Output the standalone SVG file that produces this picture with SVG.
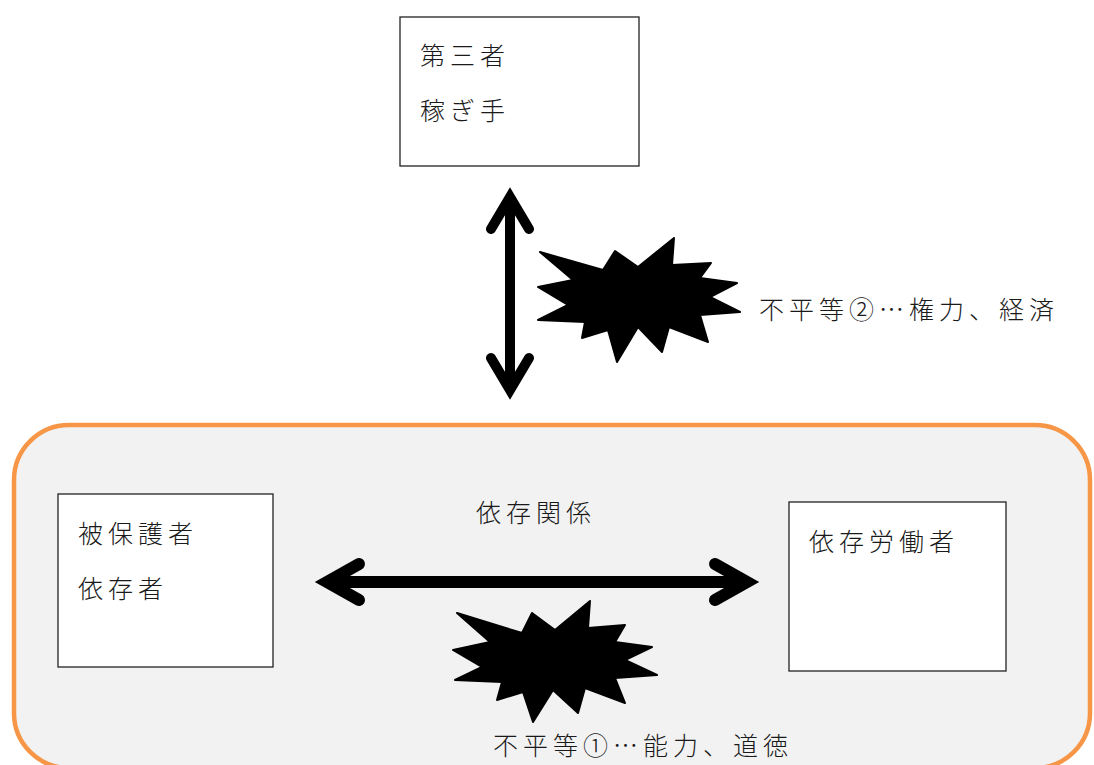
<svg xmlns="http://www.w3.org/2000/svg" width="1094" height="765" viewBox="0 0 1094 765">
<style>
.box{fill:#fff;stroke:#222;stroke-width:1.3}
.t{font-family:"Noto Sans CJK JP","Noto Sans CJK SC",sans-serif;font-size:25px;font-weight:300;fill:#1a1a1a;letter-spacing:5px}
.arr{fill:none;stroke:#000;stroke-linecap:round;stroke-linejoin:miter;stroke-miterlimit:10}
.burst{fill:#000;stroke:#000;stroke-width:2;stroke-linejoin:round}
</style>
<rect width="1094" height="765" fill="#fff"/>
<g id="container">
<rect x="14" y="425" width="1076" height="343" rx="55" ry="55" fill="#f2f2f2" stroke="#f79646" stroke-width="4.5"/>
</g>
<g id="third-party">
<rect class="box" x="400" y="17" width="239" height="149"/>
<text class="t" x="420" y="65">第三者</text>
<text class="t" x="420" y="120">稼ぎ手</text>
</g>
<g id="dependent">
<rect class="box" x="58" y="494" width="215" height="173"/>
<text class="t" x="78" y="543">被保護者</text>
<text class="t" x="78" y="598">依存者</text>
</g>
<g id="dependency-worker">
<rect class="box" x="789" y="502" width="217" height="169"/>
<text class="t" x="809" y="551">依存労働者</text>
</g>
<g id="connectors">
<g class="arr" stroke-width="10">
<line x1="510" y1="200" x2="510" y2="388"/>
<polyline points="491,229 510,197 529,229"/>
<polyline points="491,358 510,390 529,358"/>
</g>
<g class="arr" stroke-width="12">
<line x1="330" y1="582" x2="744" y2="582"/>
<polyline points="359,564 327,582 359,600"/>
<polyline points="715,564 747,582 715,600"/>
</g>
</g>
<g id="burst-2">
<polygon class="burst" points="540,252 603,270 615,251 638,267 674,238 672,265 711,263 700,278 737,283 710,297 740,312 700,315 708,342 669,327 662,352 638,327 617,362 608,330 582,338 585,322 538,320 568,305 538,287 573,280"/>
<text class="t" x="759" y="319">不平等②…権力、経済</text>
</g>
<g id="burst-1">
<polygon class="burst" points="457,613 522,633 532,613 555,630 590,601 588,628 625,625 615,642 652,647 625,660 657,675 615,678 625,703 585,688 578,713 553,690 533,722 523,692 497,700 502,682 455,680 482,667 453,650 490,642"/>
<text class="t" x="493" y="755">不平等①…能力、道徳</text>
</g>
<g id="label-dependency">
<text class="t" x="476" y="522">依存関係</text>
</g>
</svg>
